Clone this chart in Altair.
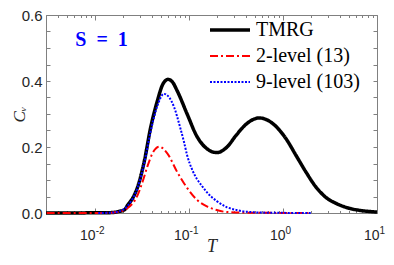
import altair as alt
import pandas as pd

# ---------------- data ----------------
series_names = ["TMRG", "2-level (13)", "9-level (103)"]
series_colors = ["#000000", "#ff0000", "#0000ff"]
series_dash = [[1, 0], [8, 3, 2, 3], [2, 1.5]]
series_width = [3.5, 2.0, 2.0]

tmrg_T = [0.0030, 0.0063, 0.0108, 0.0138, 0.0161, 0.0174, 0.0206, 0.0222, 0.0251,
          0.0284, 0.0336, 0.0388, 0.0460, 0.0525, 0.0597, 0.0661, 0.0748, 0.0953,
          0.1213, 0.1545, 0.1972, 0.2512, 0.3199, 0.4083, 0.5585, 0.7852, 1.076,
          1.371, 1.746, 2.223, 2.838, 3.614, 4.955, 6.95, 10.0]
tmrg_Cv = [0, 0, 0.001, 0.001, 0.002, 0.004, 0.010, 0.024, 0.045,
           0.080, 0.161, 0.256, 0.340, 0.390, 0.405, 0.398, 0.370, 0.300,
           0.232, 0.195, 0.183, 0.199, 0.237, 0.270, 0.288, 0.270, 0.225,
           0.175, 0.125, 0.080, 0.048, 0.030, 0.015, 0.007, 0.003]

lvl2_T = [0.00305, 0.0108, 0.0147, 0.0175, 0.0222, 0.0284, 0.032, 0.0361, 0.0408,
          0.048, 0.0586, 0.0748, 0.0953, 0.1213, 0.1545, 0.197, 0.251, 0.408, 1.97]
lvl2_Cv = [0, 0, 0.001, 0.003, 0.015, 0.055, 0.095, 0.142, 0.181,
           0.201, 0.181, 0.124, 0.076, 0.040, 0.020, 0.009, 0.003, 0.001, 0]

lvl9_T = [0.0108, 0.0147, 0.0175, 0.0222, 0.0284, 0.0336, 0.0388, 0.046, 0.054,
          0.0615, 0.069, 0.0809, 0.0883, 0.0953, 0.1076, 0.1213, 0.137, 0.1545,
          0.197, 0.251, 0.32, 0.408, 0.662, 1.97]
lvl9_Cv = [0, 0.001, 0.004, 0.022, 0.078, 0.155, 0.245, 0.325, 0.361,
           0.350, 0.322, 0.256, 0.215, 0.175, 0.132, 0.103, 0.082, 0.063,
           0.036, 0.018, 0.009, 0.004, 0.001, 0]

annotation_text = ["S\u2002=\u20021"]
annotation_T = [0.0117]
annotation_Cv = [0.525]

x_major = [0.01, 0.1, 1, 10]
x_minor = [m * d for d in [0.001, 0.01, 0.1, 1] for m in range(2, 10)]
x_minor = [round(v, 6) for v in x_minor if 0.003 <= v <= 10] + x_major
y_labels = [0, 0.2, 0.4, 0.6]
y_ticks = [round(0.05 * i, 2) for i in range(13)]

# ---------------- table ----------------
rows = []
for name, Ts, Cs in [(series_names[0], tmrg_T, tmrg_Cv),
                     (series_names[1], lvl2_T, lvl2_Cv),
                     (series_names[2], lvl9_T, lvl9_Cv)]:
    for i, (t, c) in enumerate(zip(Ts, Cs)):
        rows.append({"series": name, "T": t, "Cv": c, "i": i})
df = pd.DataFrame(rows)
ann = pd.DataFrame({"T": annotation_T, "Cv": annotation_Cv, "label": annotation_text})

W, H = 331, 198
FRAME = "#808080"
LABEL = "#262626"
SERIF = "Liberation Serif"
SANS = "Liberation Sans"

xs = alt.Scale(type="log", domain=[0.003, 10], nice=False)
ys = alt.Scale(domain=[0, 0.6], nice=False)

MAJOR_TEST = "datum.value == 0.01 || datum.value == 0.1 || datum.value == 1 || datum.value == 10"


def build(fancy):
    if fancy:
        x_tick_size = {"condition": {"test": MAJOR_TEST, "value": 5}, "value": 2.5}
        lab_off = {"condition": {"test": "datum.value < 1", "value": 0}, "value": 2}
    else:
        x_tick_size = 4
        lab_off = 0

    def tick_axis(orient, offset, values, size):
        return alt.Axis(orient=orient, offset=offset, values=values, labels=False,
                        ticks=True, tickSize=size, tickColor=FRAME, tickWidth=1,
                        domain=False, grid=False, title=None)

    leg_kwargs = dict(orient="none", legendX=172, legendY=3, title=None,
                      symbolType="M-2,0H2", symbolSize=400, labelFont=SERIF,
                      labelFontSize=20, labelColor="#000000", labelOffset=14,
                      rowPadding=5, padding=0)

    lines = alt.Chart(df).mark_line(interpolate="monotone").encode(
        x=alt.X("T:Q", scale=xs, axis=alt.Axis(
            orient="bottom", values=x_major, labelExpr="'10'", ticks=False, tickSize=0,
            domain=False, grid=False, labelFont=SANS, labelFontSize=14,
            labelColor=LABEL, labelAlign="right", labelOffset=lab_off, labelPadding=15,
            labelFlush=False, labelOverlap=False,
            title="T", titleFont=SERIF, titleFontStyle="italic", titleX=W / 2, titleY=24,
            titleFontWeight="normal", titleFontSize=18, titleColor=LABEL)),
        y=alt.Y("Cv:Q", scale=ys, axis=alt.Axis(
            orient="left", values=y_labels, format=".1f", ticks=False, tickSize=0,
            domain=False, grid=False, labelFont=SANS, labelFontSize=15,
            labelColor=LABEL, labelPadding=4, labelFlush=False,
            title="C\u1d65", titleFont=SERIF, titleFontStyle="italic",
            titleX=-18, titleY=H / 2,
            titleFontWeight="normal", titleFontSize=17, titleColor=LABEL)),
        color=alt.Color("series:N", scale=alt.Scale(domain=series_names, range=series_colors),
                        legend=alt.Legend(**leg_kwargs)),
        strokeDash=alt.StrokeDash("series:N", scale=alt.Scale(domain=series_names, range=series_dash),
                                  legend=alt.Legend(**leg_kwargs)),
        strokeWidth=alt.StrokeWidth("series:N", scale=alt.Scale(type="ordinal", domain=series_names,
                                                                range=series_width),
                                    legend=alt.Legend(**leg_kwargs)),
        order="i:Q",
    )

    text = alt.Chart(ann).mark_text(font=SERIF, fontWeight="bold", fontSize=20,
                                    color="#0000ff", align="center", baseline="middle").encode(
        x=alt.X("T:Q", scale=xs, axis=alt.Axis(
            orient="bottom", values=x_major, ticks=False, tickSize=0, domain=False, grid=False,
            labelExpr="'' + round(log(datum.value) / LN10)", labelFont=SANS,
            labelFontSize=10, labelColor=LABEL, labelAlign="left", labelOffset=lab_off,
            labelPadding=12, labelFlush=False, labelOverlap=False, title=None)),
        y=alt.Y("Cv:Q", scale=ys, axis=tick_axis("right", -W, y_ticks, 4)),
        text="label:N",
    )

    inv3 = alt.Chart(df).mark_point(opacity=0, size=1).encode(
        x=alt.X("T:Q", scale=xs, axis=tick_axis("top", -H, x_minor, x_tick_size)),
        y=alt.Y("Cv:Q", scale=ys, axis=tick_axis("left", -W, y_ticks, 4)),
    )
    inv4 = alt.Chart(df).mark_point(opacity=0, size=1).encode(
        x=alt.X("T:Q", scale=xs, axis=tick_axis("bottom", -H, x_minor, x_tick_size)),
        y=alt.Y("Cv:Q", scale=ys, axis=None),
    )

    chart = alt.layer(lines, text, inv3, inv4).resolve_axis(
        x="independent", y="independent"
    ).properties(
        width=W, height=H,
        padding={"left": 38, "top": 7, "right": 9, "bottom": 44},
        autosize=alt.AutoSizeParams(type="none"),
        background="white",
    ).configure_view(stroke=FRAME, strokeWidth=1).configure_legend(
        labelFont=SERIF, labelFontSize=20
    ).configure_text(font=SERIF)
    return chart


try:
    build(True).save("out.html", embed_options={"renderer": "svg", "actions": False})
except Exception:
    build(False).save("out.html", embed_options={"renderer": "svg", "actions": False})
